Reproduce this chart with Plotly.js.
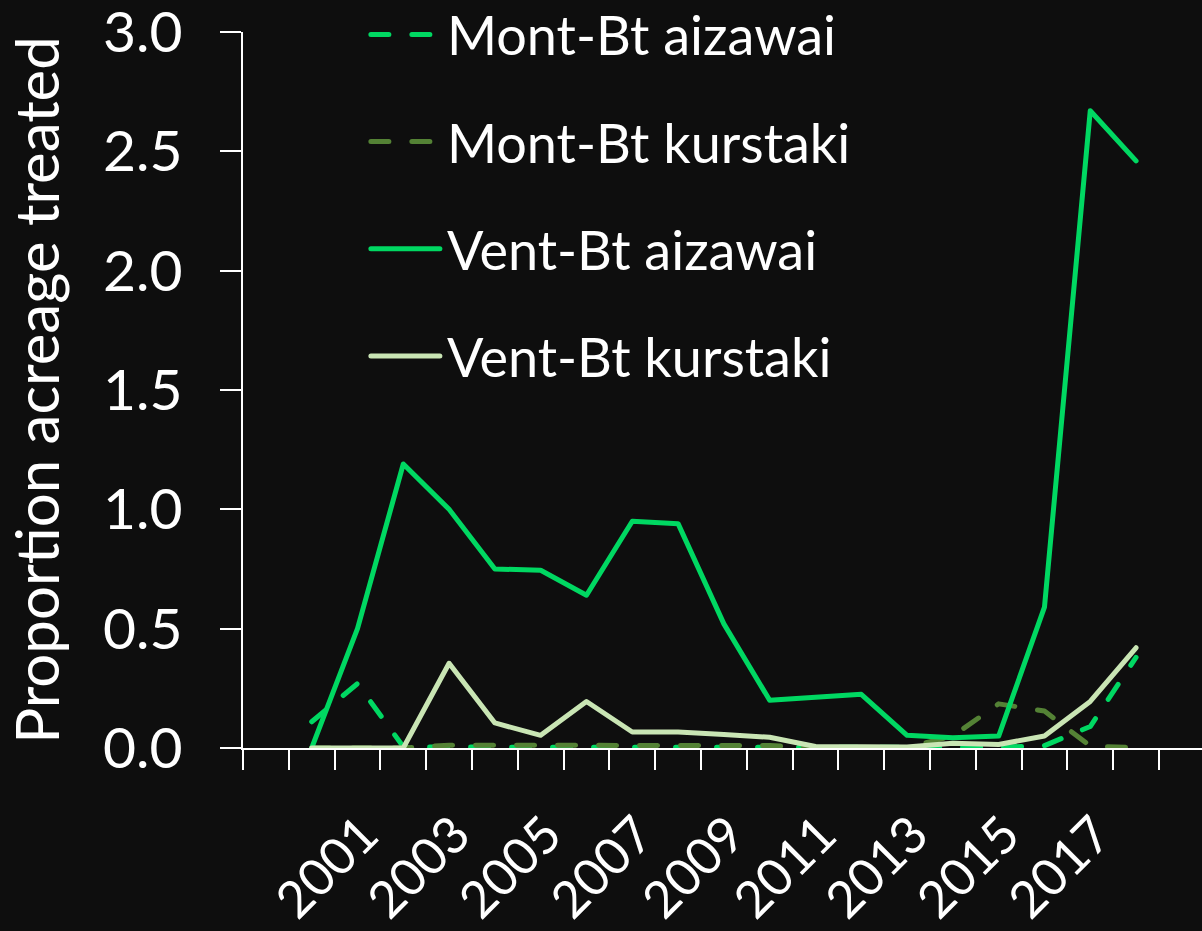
<!DOCTYPE html>
<html>
<head>
<meta charset="utf-8">
<script src="https://cdn.plot.ly/plotly-3.0.1.min.js"></script>
<style>
  html, body { margin: 0; padding: 0; background: #0e0e0e; }
  #chart { width: 1202px; height: 931px; }
  .js-line, .legendlines path { stroke-linecap: round; stroke-linejoin: round; }
</style>
</head>
<body>
<div id="chart"></div>
<script>
// Years (categories)
const years = [2000, 2001, 2002, 2003, 2004, 2005, 2006, 2007, 2008, 2009,
               2010, 2011, 2012, 2013, 2014, 2015, 2016, 2017, 2018];
// Tick labels shown on the x axis
const tickYears = [2001, 2003, 2005, 2007, 2009, 2011, 2013, 2015, 2017];
const tickLabels = ["2001", "2003", "2005", "2007", "2009", "2011", "2013", "2015", "2017"];

// Series values (proportion of acreage treated)
const montAizawai  = [0.11, 0.27, 0.005, 0.003, 0.003, 0.003, 0.003, 0.003, 0.003, 0.003,
                      0.003, 0.003, 0.003, 0.003, 0.003, 0.003, 0.01, 0.09, 0.38];
const montKurstaki = [0.0, 0.0, 0.0, 0.012, 0.012, 0.01, 0.008, 0.01, 0.01, 0.01,
                      0.01, 0.002, 0.002, 0.002, 0.05, 0.185, 0.155, 0.008, 0.002];
const ventAizawai  = [0.0, 0.50, 1.19, 1.00, 0.75, 0.745, 0.64, 0.95, 0.94, 0.52,
                      0.20, 0.213, 0.225, 0.053, 0.043, 0.05, 0.59, 2.67, 2.46];
const ventKurstaki = [0.0, 0.0, 0.0, 0.355, 0.105, 0.053, 0.195, 0.067, 0.067, 0.057,
                      0.045, 0.006, 0.004, 0.004, 0.02, 0.015, 0.05, 0.195, 0.42];

const BRIGHT = '#00D862';
const OLIVE = '#548235';
const LIGHT = '#C9E5B4';
const FONT = 'Lato, "Open Sans", sans-serif';

const traces = [
  { name: 'Mont-Bt aizawai', y: montAizawai, color: BRIGHT, dash: '18px,23px' },
  { name: 'Mont-Bt kurstaki', y: montKurstaki, color: OLIVE, dash: '18px,23px' },
  { name: 'Vent-Bt aizawai', y: ventAizawai, color: BRIGHT, dash: 'solid' },
  { name: 'Vent-Bt kurstaki', y: ventKurstaki, color: LIGHT, dash: 'solid' }
].map((s, i) => ({
  type: 'scatter',
  mode: 'lines',
  x: years,
  y: s.y,
  name: s.name,
  legendgroup: 'g' + i,
  line: { color: s.color, width: 5, dash: s.dash },
  hoverinfo: 'x+y+name'
}));

const layout = {
  width: 1202,
  height: 931,
  paper_bgcolor: '#0e0e0e',
  plot_bgcolor: '#0e0e0e',
  margin: { l: 243, r: 0, t: 32, b: 183, autoexpand: false },
  font: { family: FONT, color: '#ffffff', size: 54 },
  showlegend: true,
  legend: {
    x: 0.125, xanchor: 'left',
    y: 1.045, yanchor: 'top',
    bgcolor: 'rgba(0,0,0,0)',
    itemwidth: 74,
    tracegroupgap: 34,
    font: { family: FONT, size: 54, color: '#ffffff' }
  },
  xaxis: {
    type: 'linear',
    range: [1998.5, 2019.44],
    automargin: false,
    showgrid: false,
    zeroline: false,
    showline: true,
    linecolor: '#ffffff',
    linewidth: 2,
    tickmode: 'array',
    tickvals: tickYears,
    ticktext: tickLabels,
    ticks: 'outside',
    ticklen: 20,
    tickcolor: 'rgba(0,0,0,0)',
    tickangle: -45,
    ticklabelstandoff: 14,
    ticklabelshift: 6,
    ticklabeloverflow: 'allow',
    tickfont: { family: FONT, size: 51, color: '#ffffff' },
    minor: {
      tickmode: 'linear',
      tick0: 1998.5,
      dtick: 1,
      ticks: 'outside',
      ticklen: 20,
      tickwidth: 2,
      tickcolor: '#ffffff',
      showgrid: false
    }
  },
  yaxis: {
    range: [0, 3],
    automargin: false,
    dtick: 0.5,
    tick0: 0,
    tickformat: '.1f',
    showgrid: false,
    zeroline: false,
    showline: true,
    linecolor: '#ffffff',
    linewidth: 2,
    ticks: 'outside',
    ticklen: 21,
    tickwidth: 2,
    tickcolor: '#ffffff',
    ticklabelstandoff: 26,
    ticklabeloverflow: 'allow',
    tickfont: { family: FONT, size: 57, color: '#ffffff' },
    title: {
      text: 'Proportion acreage treated',
      font: { family: FONT, size: 60, color: '#ffffff' },
      standoff: 25
    }
  }
};

Plotly.newPlot('chart', traces, layout, { displayModeBar: false, staticPlot: true }).then(gd => {
  // fine-tune legend placement (legend top is clamped to the page edge)
  const lg = gd.querySelector('g.legend');
  if (lg) {
    const t = lg.getAttribute('transform') || '';
    const m = t.match(/translate\(\s*([-\d.]+)[ ,]+([-\d.]+)\s*\)/);
    if (m) lg.setAttribute('transform', 'translate(' + m[1] + ',' + (parseFloat(m[2]) - 7) + ')');
  }
  gd.querySelectorAll('.legendlines path').forEach(p => p.setAttribute('d', 'M8,0h69'));
});
</script>
</body>
</html>
